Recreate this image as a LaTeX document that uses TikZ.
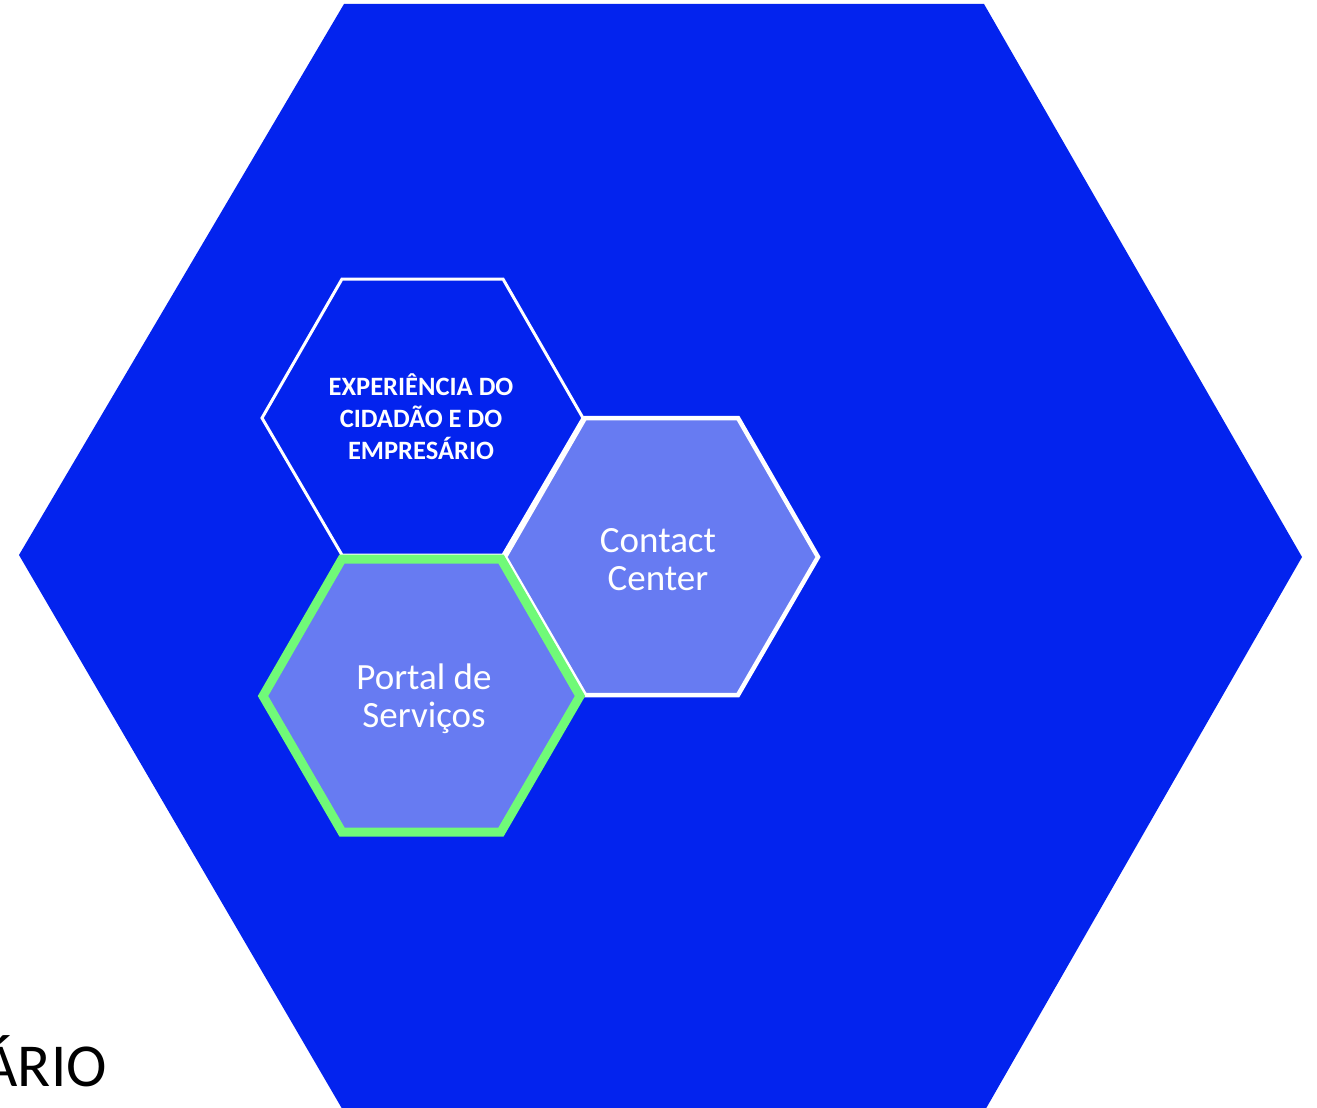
\documentclass[tikz,border=0pt]{standalone}
\usepackage{fontspec}
\setmainfont{Carlito}
\definecolor{bigblue}{RGB}{3,35,238}
\definecolor{lightblue}{RGB}{103,123,242}
\definecolor{hexgreen}{RGB}{112,250,120}
\tikzset{
  hexwhite/.style={draw=white, line width=4.5pt, line join=miter},
  hexlabel/.style={text=white, align=center, inner sep=0pt},
}
\begin{document}
\begin{tikzpicture}[x=1pt,y=-1pt]
\useasboundingbox (0,0) rectangle (1317,1108);
\fill[white] (0,0) rectangle (1317,1108);
% big hexagon
\fill[bigblue] (344,4) -- (984,4) -- (1302,557) -- (984,1112) -- (344,1112) -- (19,555) -- cycle;
% label cut at left
\node[anchor=base east, inner sep=0pt, font=\fontsize{61}{66}\selectfont] (ario) at (107,1086) {ÁRIO};
% top hexagon
\draw[hexwhite, line width=3pt, fill=bigblue] (342,279) -- (503,279) -- (583,418) -- (503,555) -- (342,555) -- (262,418) -- cycle;
\node[hexlabel, font=\fontsize{26.5}{32}\selectfont\bfseries] (exp) at (421,417) {EXPERIÊNCIA DO\\CIDADÃO E DO\\EMPRESÁRIO};
% contact center
\draw[hexwhite, fill=lightblue] (585,418) -- (738,418) -- (818,557) -- (738,695) -- (585,695) -- (505,557) -- cycle;
\node[hexlabel, font=\fontsize{37}{38}\selectfont] (cc) at (658,560) {Contact\\Center};
% portal
\draw[draw=hexgreen, line width=9pt, fill=lightblue, line join=miter] (342,559) -- (501,559) -- (580,696) -- (501,832) -- (342,832) -- (263,696) -- cycle;
\node[hexlabel, font=\fontsize{37}{38}\selectfont] (ps) at (424,699) {Portal de\\Serviços};
\end{tikzpicture}
\end{document}
